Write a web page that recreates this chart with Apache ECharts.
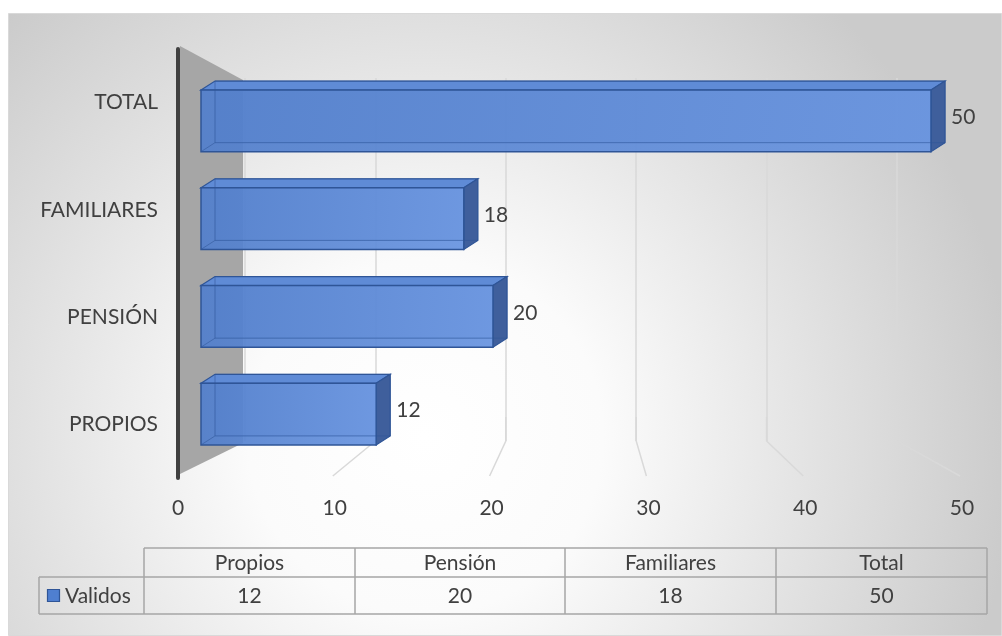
<!DOCTYPE html>
<html>
<head>
<meta charset="utf-8">
<script src="https://cdn.jsdelivr.net/npm/echarts@6/dist/echarts.min.js"></script>
<style>
html,body{margin:0;padding:0;background:#fff;}
#c{width:1002px;height:636px;}
</style>
</head>
<body>
<div id="c"></div>
<script>
// ---- data ----
const categories = ['Propios', 'Pensión', 'Familiares', 'Total'];
const values = [12, 20, 18, 50];
const seriesName = 'Validos';
const tickValues = [0, 10, 20, 30, 40, 50];

const FONT = 'Lato, "Open Sans", sans-serif';
const FS = 21;
const TXT = '#404040';

const chart = echarts.init(document.getElementById('c'), null, {renderer: 'canvas'});

function renderBox(params, api) {
  const idx = api.value(1);
  const v = api.value(0);
  const p0 = api.coord([0, idx]);
  const p1 = api.coord([v, idx]);
  const band = api.size([0, 1])[1];
  const h = band * 0.63;
  const yc = p0[1];
  const yt = yc - h / 2, yb = yc + h / 2;
  const x0 = p0[0], x1 = p1[0];
  const dx = 14, dy = 9;
  const edge = '#2f5597';
  return {
    type: 'group',
    children: [
      {type: 'rect', shape: {x: x0 + dx, y: yt - dy, width: x1 - x0, height: h},
       style: {fill: 'rgba(70,110,185,0.35)', stroke: 'rgba(47,85,151,0.6)', lineWidth: 1}},
      {type: 'polygon', shape: {points: [[x0, yt], [x0 + dx, yt - dy], [x1 + dx, yt - dy], [x1, yt]]},
       style: {fill: '#5f8bd6', stroke: edge, lineWidth: 1.2}},
      {type: 'polygon', shape: {points: [[x1, yt], [x1 + dx, yt - dy], [x1 + dx, yb - dy], [x1, yb]]},
       style: {fill: '#3f5f9c', stroke: edge, lineWidth: 1.2}},
      {type: 'rect', shape: {x: x0, y: yt, width: x1 - x0, height: h},
       style: {
         fill: new echarts.graphic.LinearGradient(0, 0, 1, 0, [
           {offset: 0, color: 'rgba(82,127,204,0.93)'},
           {offset: 1, color: 'rgba(104,148,224,0.93)'}
         ]),
         stroke: edge, lineWidth: 1.5
       }},
      {type: 'polyline', shape: {points: [[x0 + dx, yt - dy], [x0 + dx, yb - dy], [x1 + dx, yb - dy]]},
       style: {stroke: 'rgba(47,85,151,0.55)', fill: null, lineWidth: 1}},
      {type: 'line', shape: {x1: x0, y1: yb, x2: x0 + dx, y2: yb - dy},
       style: {stroke: 'rgba(47,85,151,0.55)', lineWidth: 1}},
      {type: 'text', style: {text: String(v), x: x1 + dx + 6, y: yc - dy / 2 + 1,
        verticalAlign: 'middle', align: 'left', font: FS + 'px ' + FONT, fill: TXT}}
    ]
  };
}

chart.setOption({
  animation: false,
  grid: [
    {left: 201, right: 71, top: 72, bottom: 173},
    {left: 245, right: 105, top: 78, bottom: 195},
    {left: 178, right: 40, top: 49, bottom: 158}
  ],
  xAxis: [
    {gridIndex: 0, type: 'value', min: 0, max: 50, interval: 10, show: false},
    {gridIndex: 1, type: 'value', min: 0, max: 50, interval: 10,
     axisLine: {show: false}, axisTick: {show: false}, axisLabel: {show: false},
     splitLine: {show: true, lineStyle: {color: '#d9d9d9', width: 1.5}}},
    {gridIndex: 2, type: 'value', min: 0, max: 50, interval: 10,
     axisLine: {show: false}, axisTick: {show: false}, splitLine: {show: false},
     axisLabel: {margin: 20, fontSize: FS, color: TXT, fontFamily: FONT}}
  ],
  yAxis: [
    {gridIndex: 0, type: 'category', data: categories, show: false},
    {gridIndex: 1, type: 'category', data: categories, show: false},
    {gridIndex: 2, type: 'category', data: categories,
     axisLine: {show: true, lineStyle: {color: '#404040', width: 4}},
     axisTick: {show: false}, splitLine: {show: false},
     axisLabel: {formatter: v => v.toUpperCase(), margin: 20, fontSize: FS, color: TXT, fontFamily: FONT}}
  ],
  series: [{
    type: 'custom',
    name: seriesName,
    xAxisIndex: 0, yAxisIndex: 0,
    renderItem: renderBox,
    encode: {x: 0, y: 1},
    data: values.map((v, i) => [v, i]),
    z: 5
  }]
});

// ---- decorations and data table ----
const g = [];
g.push({type: 'rect', z: -10, shape: {x: 8.5, y: 13.5, width: 993, height: 622},
  style: {
    fill: new echarts.graphic.RadialGradient(0.42, 0.68, 0.95, [
      {offset: 0, color: '#ffffff'},
      {offset: 0.3, color: '#fbfbfb'},
      {offset: 1, color: '#cbcbcb'}
    ]),
    stroke: '#d9d9d9', lineWidth: 1
  }});
g.push({type: 'polygon', z: 1, shape: {points: [[180, 46], [243, 80], [243, 443], [180, 474]]},
  style: {fill: '#a6a6a6'}});
tickValues.forEach(v => {
  if (v === 0) return;
  const xb = chart.convertToPixel({xAxisIndex: 1}, v);
  const xf = chart.convertToPixel({xAxisIndex: 2}, v);
  g.push({type: 'polyline', z: 0, shape: {points: [[xb, 417], [xb, 441], [xf - 2, 476]]},
    style: {stroke: '#d9d9d9', lineWidth: 1.5, fill: null}});
});

const colEdges = [144, 355, 565, 776, 987];
const rowTop = 548, rowMid = 577, rowBot = 614, labelLeft = 39;
const lineStyle = {stroke: '#a6a6a6', lineWidth: 1.5};
g.push({type: 'line', shape: {x1: colEdges[0], y1: rowTop, x2: colEdges[4], y2: rowTop}, style: lineStyle});
g.push({type: 'line', shape: {x1: labelLeft, y1: rowMid, x2: colEdges[4], y2: rowMid}, style: lineStyle});
g.push({type: 'line', shape: {x1: labelLeft, y1: rowBot, x2: colEdges[4], y2: rowBot}, style: lineStyle});
g.push({type: 'line', shape: {x1: labelLeft, y1: rowMid, x2: labelLeft, y2: rowBot}, style: lineStyle});
colEdges.forEach(x => g.push({type: 'line', shape: {x1: x, y1: rowTop, x2: x, y2: rowBot}, style: lineStyle}));
categories.forEach((c, i) => {
  const cx = (colEdges[i] + colEdges[i + 1]) / 2;
  g.push({type: 'text', style: {text: c, x: cx, y: (rowTop + rowMid) / 2 + 1, align: 'center', verticalAlign: 'middle',
    font: FS + 'px ' + FONT, fill: TXT}});
  g.push({type: 'text', style: {text: String(values[i]), x: cx, y: (rowMid + rowBot) / 2 + 1, align: 'center', verticalAlign: 'middle',
    font: FS + 'px ' + FONT, fill: TXT}});
});
g.push({type: 'rect', shape: {x: 47.5, y: 589.5, width: 12, height: 12},
  style: {fill: '#4f7fd0', stroke: '#2f5597', lineWidth: 1.2}});
g.push({type: 'text', style: {text: seriesName, x: 65, y: (rowMid + rowBot) / 2 + 1, align: 'left', verticalAlign: 'middle',
  font: FS + 'px ' + FONT, fill: TXT}});

chart.setOption({graphic: {elements: g}});
</script>
</body>
</html>
